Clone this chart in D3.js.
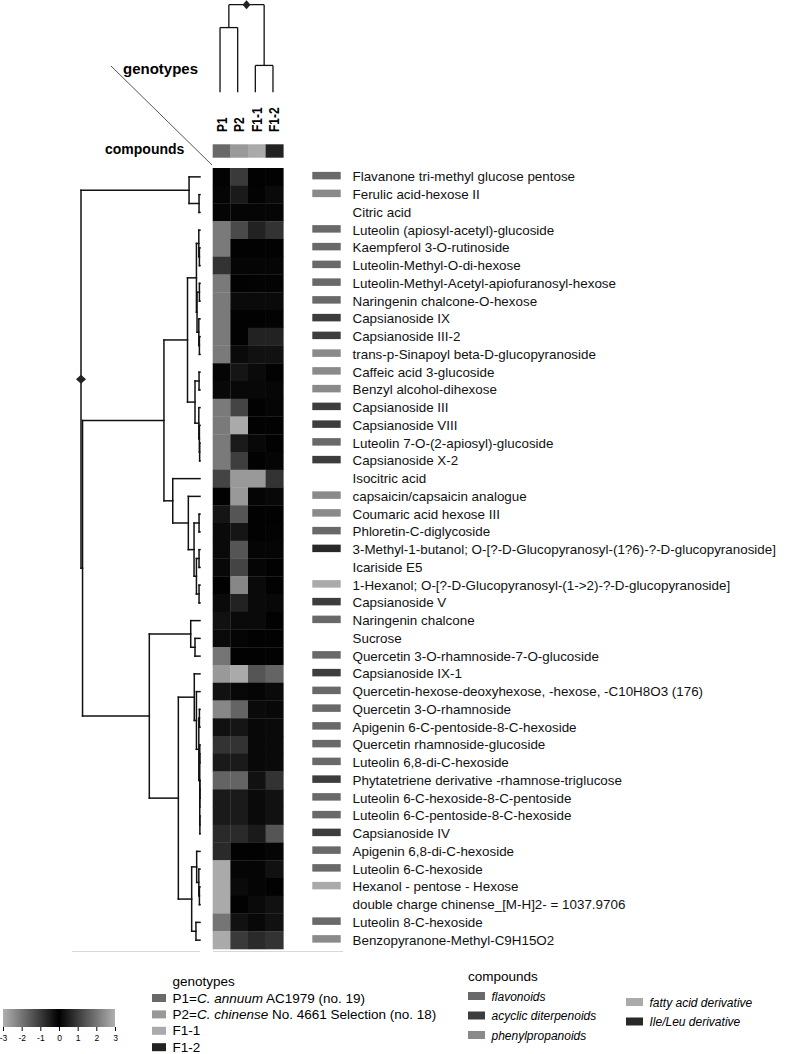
<!DOCTYPE html>
<html>
<head>
<meta charset="utf-8">
<script src="https://cdn.jsdelivr.net/npm/d3@7"></script>
<style>
  body { margin: 0; background: #fff; }
  svg { display: block; font-family: "Liberation Sans", Arial, sans-serif; }
</style>
</head>
<body>
<svg id="chart" width="796" height="1054"></svg>
<script>
const genotypes = ["P1", "P2", "F1-1", "F1-2"];
const genotypeColors = ["#696969", "#999999", "#aaaaaa", "#222222"];

const compounds = [
  "Flavanone tri-methyl glucose pentose",
  "Ferulic acid-hexose II",
  "Citric acid",
  "Luteolin (apiosyl-acetyl)-glucoside",
  "Kaempferol 3-O-rutinoside",
  "Luteolin-Methyl-O-di-hexose",
  "Luteolin-Methyl-Acetyl-apiofuranosyl-hexose",
  "Naringenin chalcone-O-hexose",
  "Capsianoside IX",
  "Capsianoside III-2",
  "trans-p-Sinapoyl beta-D-glucopyranoside",
  "Caffeic acid 3-glucoside",
  "Benzyl alcohol-dihexose",
  "Capsianoside III",
  "Capsianoside VIII",
  "Luteolin 7-O-(2-apiosyl)-glucoside",
  "Capsianoside X-2",
  "Isocitric acid",
  "capsaicin/capsaicin analogue",
  "Coumaric acid hexose III",
  "Phloretin-C-diglycoside",
  "3-Methyl-1-butanol; O-[?-D-Glucopyranosyl-(1?6)-?-D-glucopyranoside]",
  "Icariside E5",
  "1-Hexanol; O-[?-D-Glucopyranosyl-(1->2)-?-D-glucopyranoside]",
  "Capsianoside V",
  "Naringenin chalcone",
  "Sucrose",
  "Quercetin 3-O-rhamnoside-7-O-glucoside",
  "Capsianoside IX-1",
  "Quercetin-hexose-deoxyhexose, -hexose, -C10H8O3 (176)",
  "Quercetin 3-O-rhamnoside",
  "Apigenin 6-C-pentoside-8-C-hexoside",
  "Quercetin rhamnoside-glucoside",
  "Luteolin 6,8-di-C-hexoside",
  "Phytatetriene derivative -rhamnose-triglucose",
  "Luteolin 6-C-hexoside-8-C-pentoside",
  "Luteolin 6-C-pentoside-8-C-hexoside",
  "Capsianoside IV",
  "Apigenin 6,8-di-C-hexoside",
  "Luteolin 6-C-hexoside",
  "Hexanol - pentose - Hexose",
  "double charge chinense_[M-H]2- = 1037.9706",
  "Luteolin 8-C-hexoside",
  "Benzopyranone-Methyl-C9H15O2"
];

// class index per compound: 0 flavonoids, 1 acyclic diterpenoids, 2 phenylpropanoids,
// 3 fatty acid derivative, 4 Ile/Leu derivative, -1 none
const compoundClass = [0, 2, -1, 0, 0, 0, 0, 0, 1, 1, 2, 2, 2, 1, 1, 0, 1, -1, 2, 2, 0, 4, -1, 3,
  1, 0, -1, 0, 1, 0, 0, 0, 0, 0, 1, 0, 0, 1, 0, 0, 3, -1, 0, 2];
const classNames = ["flavonoids", "acyclic diterpenoids", "phenylpropanoids", "fatty acid derivative", "Ile/Leu derivative"];
const classColors = ["#696969", "#3d3d3d", "#8a8a8a", "#aaaaaa", "#282828"];

// z-scores, columns P1, P2, F1-1, F1-2
const values = [
  [-0.05, 0.99, -0.03, -0.04],
  [-0.09, 0.44, -0.05, -0.17],
  [0.09, -0.09, 0.08, -0.08],
  [2.08, 1.26, -0.58, -0.87],
  [2.08, -0.03, -0.03, -0.03],
  [0.87, -0.09, -0.09, -0.09],
  [2.08, -0.03, -0.05, -0.05],
  [2.08, -0.17, -0.17, -0.17],
  [2.08, -0.03, -0.03, -0.05],
  [2.08, -0.03, -0.58, -0.58],
  [2.08, -0.17, -0.29, -0.29],
  [-0.09, 0.36, -0.17, -0.03],
  [-0.14, 0.14, -0.14, 0.10],
  [2.08, 1.16, -0.03, -0.09],
  [2.08, 2.90, -0.03, -0.03],
  [2.08, 0.44, -0.14, -0.03],
  [2.08, 1.06, -0.03, -0.09],
  [-1.16, 2.60, 2.60, -0.87],
  [-0.03, 2.60, -0.09, -0.14],
  [-0.36, 1.45, -0.03, -0.03],
  [-0.17, 0.36, -0.03, -0.05],
  [-0.17, 1.45, -0.09, -0.09],
  [-0.14, 1.16, -0.09, -0.03],
  [-0.03, 2.30, -0.17, -0.03],
  [-0.17, 0.58, -0.17, -0.14],
  [0.29, -0.17, -0.17, -0.03],
  [0.17, 0.09, -0.03, -0.03],
  [2.00, -0.03, -0.03, -0.03],
  [2.60, 2.90, -1.45, -1.70],
  [0.29, -0.14, -0.09, -0.17],
  [2.30, 1.70, -0.17, -0.14],
  [0.29, 0.36, -0.14, -0.17],
  [0.87, 0.87, -0.14, -0.17],
  [0.44, 0.44, -0.14, -0.17],
  [1.70, 1.70, -0.29, -0.87],
  [0.44, 0.44, -0.17, -0.29],
  [0.44, 0.44, -0.17, -0.29],
  [0.72, 0.72, -0.44, -1.45],
  [0.72, -0.03, -0.03, -0.09],
  [2.90, -0.09, -0.09, -0.29],
  [2.90, -0.17, -0.09, -0.03],
  [2.90, -0.03, -0.17, -0.29],
  [2.00, -0.29, -0.14, -0.29],
  [2.90, -0.99, -0.72, -0.87]
];

// dendrograms: [height, left, right], leaves are row / column indices
const rowTree = [10,
  [0.92, 0, [0.08, 1, 2]],
  [9.87,
    [3.03,
      [1.05,
        [0.3, [0.1, 3, [0.05, 4, 5]], [0.25, [0.05, 6, 7], [0.1, 8, [0.05, 9, 10]]]],
        [0.42, [0.08, 11, 12], [0.1, 13, [0.05, 14, [0.03, 15, 16]]]]],
      [2.29, 17, [0.98, 18, [0.5, [0.08, 19, 20], [0.3, [0.08, 21, 22], [0.08, 23, 24]]]]]],
    [4.26,
      [0.78, 25, [0.42, 26, 27]],
      [1.82,
        [0.48, 28, [0.3, 29, [0.1, [0.05, 30, 31], [0.02, [0.02, 32, 33], [0.02, [0.01, 34, 35], [0.01, 36, 37]]]]]],
        [0.70, [0.28, 38, [0.1, 39, [0.05, 40, 41]]], [0.34, 42, 43]]]]]];
const colTree = [8.8, [6.5, 0, 1], [2.7, 2, 3]];

const colorTicks = [-3, -2, -1, 0, 1, 2, 3];

const svg = d3.select("#chart");

const x = d3.scaleBand().domain(d3.range(genotypes.length)).range([212.7, 283.3]);
const y = d3.scaleBand().domain(d3.range(compounds.length)).range([168, 949]);
const color = d3.scaleLinear().domain([-3, 0, 3]).range(["#b0b0b0", "#000000", "#b0b0b0"]).clamp(true);

// heatmap cells
const rows = svg.append("g").selectAll("g").data(values).join("g");
rows.selectAll("rect")
  .data((d, i) => d.map((v, j) => ({ v, i, j })))
  .join("rect")
  .attr("x", d => x(d.j))
  .attr("y", d => y(d.i))
  .attr("width", x.bandwidth() + 0.3)
  .attr("height", y.bandwidth() + 0.3)
  .attr("fill", d => color(d.v));

// genotype colour strip
svg.append("g").selectAll("rect").data(genotypes).join("rect")
  .attr("x", (d, j) => x(j))
  .attr("y", 144.3)
  .attr("width", x.bandwidth() + 0.3)
  .attr("height", 13.4)
  .attr("fill", (d, j) => genotypeColors[j]);

// genotype labels, reading bottom to top
svg.append("g").selectAll("text").data(genotypes).join("text")
  .attr("transform", (d, j) => `translate(${x(j) + x.bandwidth() / 2 + 5},132) rotate(-90) scale(0.8,1)`)
  .attr("text-anchor", "start")
  .attr("font-size", 15)
  .attr("font-weight", "bold")
  .text(d => d);

// compound class swatches and labels
svg.append("g").selectAll("rect")
  .data(compoundClass.map((c, i) => ({ c, i })).filter(d => d.c >= 0))
  .join("rect")
  .attr("x", 312.3)
  .attr("y", d => y(d.i) + y.bandwidth() / 2 - 5)
  .attr("width", 28.4)
  .attr("height", 7.5)
  .attr("fill", d => classColors[d.c]);

svg.append("g").selectAll("text").data(compounds).join("text")
  .attr("x", 352.5)
  .attr("y", (d, i) => y(i) + y.bandwidth() / 2 + 4.5)
  .attr("font-size", 13.4)
  .attr("fill", "#111")
  .text(d => d);

// dendrogram helper
function layoutTree(tree, leafPos) {
  const root = d3.hierarchy(tree, d => Array.isArray(d) ? d.slice(1) : null);
  root.eachAfter(n => {
    n.h = Array.isArray(n.data) ? n.data[0] : 0;
    n.pos = n.children ? d3.mean(n.children, c => c.pos) : leafPos(n.data);
  });
  return root;
}

// row dendrogram
const rowH = d3.scaleLinear().domain([0, 10]).range([200, 81]);
const rowRoot = layoutTree(rowTree, i => y(i) + y.bandwidth() / 2);
const rowLines = [];
rowRoot.each(n => {
  if (!n.children) return;
  const ys = n.children.map(c => c.pos);
  rowLines.push([rowH(n.h), d3.min(ys), rowH(n.h), d3.max(ys)]);
  n.children.forEach(c => rowLines.push([rowH(n.h), c.pos, rowH(c.h), c.pos]));
});
svg.append("g").attr("stroke", "#111").attr("stroke-width", 1.5).attr("stroke-linecap", "square")
  .selectAll("line").data(rowLines).join("line")
  .attr("x1", d => d[0]).attr("y1", d => d[1]).attr("x2", d => d[2]).attr("y2", d => d[3]);

// column dendrogram
const colH = d3.scaleLinear().domain([0, 8.8]).range([92.3, 4.7]);
const colRoot = layoutTree(colTree, j => x(j) + x.bandwidth() / 2 - 1.5);
const colLines = [];
colRoot.each(n => {
  if (!n.children) return;
  const xs = n.children.map(c => c.pos);
  colLines.push([d3.min(xs), colH(n.h), d3.max(xs), colH(n.h)]);
  n.children.forEach(c => colLines.push([c.pos, colH(n.h), c.pos, colH(c.h)]));
});
svg.append("g").attr("stroke", "#111").attr("stroke-width", 1.3)
  .selectAll("line").data(colLines).join("line")
  .attr("x1", d => d[0]).attr("y1", d => d[1]).attr("x2", d => d[2]).attr("y2", d => d[3]);

// root markers
const diamond = (cx, cy, w, h) => `M${cx - w},${cy}L${cx},${cy - h}L${cx + w},${cy}L${cx},${cy + h}Z`;
svg.append("path").attr("d", diamond(rowH(rowRoot.h), rowRoot.pos, 5, 4.5)).attr("fill", "#222");
svg.append("path").attr("d", diamond(colRoot.pos, colH(colRoot.h), 4, 4.5)).attr("fill", "#222");

// corner header
svg.append("line").attr("x1", 111).attr("y1", 66).attr("x2", 212).attr("y2", 165)
  .attr("stroke", "#555").attr("stroke-width", 1);
svg.append("text").attr("x", 123).attr("y", 74).attr("font-size", 15).attr("font-weight", "bold").text("genotypes");
svg.append("text").attr("x", 105).attr("y", 154).attr("font-size", 14).attr("font-weight", "bold").text("compounds");

// bottom rules
svg.append("line").attr("x1", 72).attr("x2", 200).attr("y1", 951.5).attr("y2", 951.5).attr("stroke", "#d8d8d8");
svg.append("line").attr("x1", 213).attr("x2", 343).attr("y1", 951.5).attr("y2", 951.5).attr("stroke", "#d8d8d8");

// colour key
const keyX = d3.scaleLinear().domain([-3, 3]).range([3, 115]);
const grad = svg.append("defs").append("linearGradient").attr("id", "key");
grad.selectAll("stop").data(colorTicks).join("stop")
  .attr("offset", d => (d + 3) / 6)
  .attr("stop-color", d => color(d));
svg.append("rect").attr("x", keyX(-3)).attr("y", 1009).attr("width", keyX(3) - keyX(-3)).attr("height", 18)
  .attr("fill", "url(#key)");
const keyAxis = svg.append("g").attr("transform", "translate(0,1027)")
  .call(d3.axisBottom(keyX).tickValues(colorTicks).tickSize(4).tickPadding(4).tickFormat(d => String(d)));
keyAxis.select(".domain").remove();
keyAxis.selectAll("text").attr("font-size", 8.5).attr("font-family", "Liberation Sans, Arial, sans-serif");

// genotype legend
const gl = svg.append("g");
gl.append("text").attr("x", 172.5).attr("y", 986).attr("font-size", 13.5).text("genotypes");
const genoLegend = [
  ["P1=", "C. annuum", " AC1979 (no. 19)"],
  ["P2=", "C. chinense", " No. 4661 Selection (no. 18)"],
  ["F1-1", "", ""],
  ["F1-2", "", ""]
];
const gItems = gl.selectAll("g").data(genoLegend).join("g")
  .attr("transform", (d, i) => `translate(0,${998 + i * 16.4})`);
gItems.append("rect").attr("x", 152).attr("y", -4).attr("width", 14).attr("height", 8)
  .attr("fill", (d, i) => genotypeColors[i]);
const gText = gItems.append("text").attr("x", 172.5).attr("y", 4.5).attr("font-size", 13.5);
gText.append("tspan").text(d => d[0]);
gText.append("tspan").attr("font-style", "italic").text(d => d[1]);
gText.append("tspan").text(d => d[2]);

// compound class legend
svg.append("text").attr("x", 468).attr("y", 981).attr("font-size", 13.5).text("compounds");
const cItems = svg.append("g").selectAll("g").data(classNames).join("g")
  .attr("transform", (d, i) => i < 3
    ? `translate(468,${996 + i * 19.5})`
    : `translate(626,${1002 + (i - 3) * 19.5})`);
cItems.append("rect").attr("x", 0).attr("y", -4).attr("width", 17).attr("height", 8)
  .attr("fill", (d, i) => classColors[i]);
cItems.append("text").attr("x", 23.5).attr("y", 4.5).attr("font-size", 12).attr("font-style", "italic")
  .text(d => d);
</script>
</body>
</html>
